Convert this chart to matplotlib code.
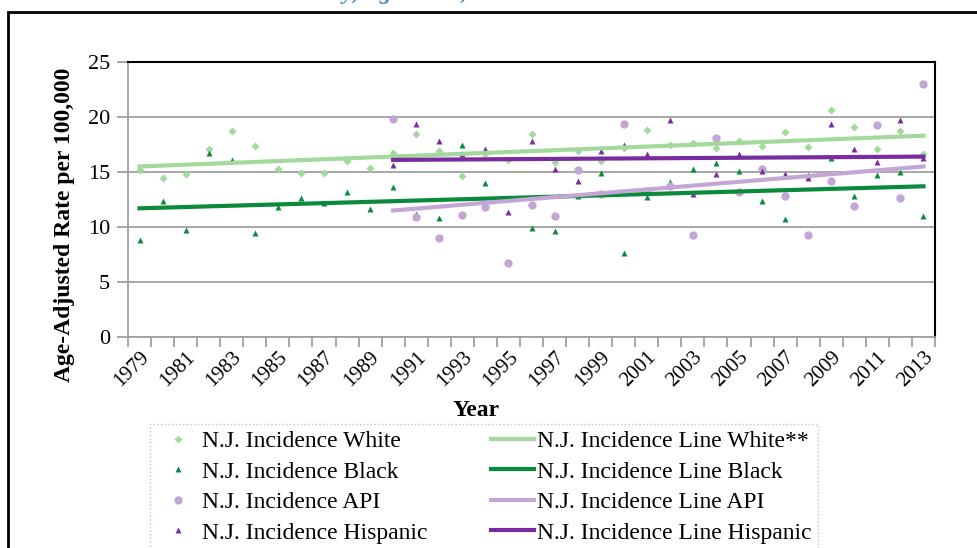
import matplotlib
matplotlib.use("Agg")
import matplotlib.pyplot as plt
from matplotlib.patches import Rectangle

plt.rcParams['font.family'] = ['Liberation Serif', 'DejaVu Serif']

years = list(range(1979, 2014))
white = [15.2, 14.5, 14.8, 17.1, 18.7, 17.4, 15.3, 14.9, 14.9, 16.0, 15.4, 16.7,
         18.5, 16.9, 14.6, 16.6, 16.1, 18.5, 15.9, 16.9, 16.0, 17.2, 18.8, 17.5,
         17.6, 17.2, 17.8, 17.4, 18.6, 17.3, 20.6, 19.1, 17.1, 18.7, 16.6]
black = [8.8, 12.4, 9.7, 16.7, 16.1, 9.5, 11.8, 12.6, 12.2, 13.2, 11.6, 13.6,
         11.2, 10.8, 17.5, 14.0, 12.6, 9.9, 9.6, 12.8, 14.9, 7.6, 12.7, 14.1,
         15.3, 15.8, 15.1, 12.4, 10.7, 14.7, 16.3, 12.8, 14.7, 15.0, 11.0]
# API and Hispanic series start in 1990
api_years = list(range(1990, 2014))
api = [19.8, 10.9, 9.0, 11.1, 11.8, 6.75, 12.0, 11.0, 15.2, 13.0, 19.4, 13.3,
       13.7, 9.3, 18.1, 13.2, 15.3, 12.8, 9.3, 14.2, 11.9, 19.3, 12.6, 23.0]
hisp = [15.6, 19.4, 17.8, 16.6, 17.1, 11.4, 17.8, 15.3, 14.2, 16.9, 17.5, 16.6,
        19.7, 13.0, 14.8, 16.6, 15.1, 14.8, 14.5, 19.4, 17.1, 15.9, 19.7, 16.3]

# trend lines: (start year, end year), (start value, end value)
white_line_years = [1979, 2013]
white_line = [15.5, 18.3]
black_line_years = [1979, 2013]
black_line = [11.7, 13.7]
api_line_years = [1990, 2013]
api_line = [11.5, 15.5]
hisp_line_years = [1990, 2013]
hisp_line = [16.1, 16.4]

c_white = '#A3D99C'
c_black = '#0B8A3C'
c_api = '#C4A6D6'
c_hisp = '#7A2C9E'

fig = plt.figure(figsize=(9.78, 5.48), dpi=100)
ax = fig.add_axes([128 / 978, 1 - 337 / 548, (935 - 128) / 978, (337 - 62) / 548])

def idx(ys):
    return [y - 1979 for y in ys]

h1, = ax.plot(idx(years), white, 'D', ms=3.8, color=c_white, mec='none', label='N.J. Incidence White')
h2, = ax.plot(idx(years), black, '^', ms=5, color=c_black, mec='none', label='N.J. Incidence Black')
h3, = ax.plot(idx(api_years), api, 'o', ms=6, color=c_api, mec='none', label='N.J. Incidence API')
h4, = ax.plot(idx(api_years), hisp, '^', ms=5, color=c_hisp, mec='none', label='N.J. Incidence Hispanic')
h5, = ax.plot(idx(white_line_years), white_line, '-', lw=3, color=c_white, label='N.J. Incidence Line White**')
h6, = ax.plot(idx(black_line_years), black_line, '-', lw=3, color=c_black, label='N.J. Incidence Line Black')
h7, = ax.plot(idx(api_line_years), api_line, '-', lw=3, color=c_api, label='N.J. Incidence Line API')
h8, = ax.plot(idx(hisp_line_years), hisp_line, '-', lw=3, color=c_hisp, label='N.J. Incidence Line Hispanic')

ax.set_xlim(-0.5, len(years) - 0.5)
ax.set_ylim(0, 25)
ax.set_yticks(range(0, 26, 5))
ax.yaxis.grid(True, color='#A0A0A0', lw=1.3)
ax.set_axisbelow(True)
ax.tick_params(axis='y', labelsize=16, length=8, color='#A0A0A0', width=1.3, pad=5)

ax.set_xticks([i - 0.5 for i in range(len(years) + 1)])
ax.set_xticklabels([])
ax.set_xticks(range(0, len(years), 2), minor=True)
ax.set_xticklabels([str(y) for y in years[::2]], minor=True, rotation=45,
                   ha='right', rotation_mode='anchor', fontsize=15)
ax.tick_params(axis='x', which='major', length=7, color='#A0A0A0', width=1.3)
ax.tick_params(axis='x', which='minor', length=0, pad=8)

for s in ['left', 'bottom']:
    ax.spines[s].set_color('#A0A0A0')
    ax.spines[s].set_linewidth(1.3)
for s in ['top', 'right']:
    ax.spines[s].set_color('black')
    ax.spines[s].set_linewidth(1.5)

fig.text(65 / 978, 1 - 225 / 548, 'Age-Adjusted Rate per 100,000', rotation=90,
         ha='center', va='center', fontsize=17, fontweight='bold')
fig.text(476 / 978, 1 - 410 / 548, 'Year', ha='center', va='center',
         fontsize=17, fontweight='bold')

# caption above the chart, mostly cut off by the top edge
fig.text(358 / 978, 1 + 1 / 548, 'Incidence Rate Trends in Race and Ethnicity,',
         ha='right', va='baseline', fontsize=17, fontweight='bold', style='italic',
         color='#4F81BD')
fig.text(368 / 978, 1 + 1 / 548, 'ages 0-19, 1979-2013',
         ha='left', va='baseline', fontsize=17, fontweight='bold', style='italic',
         color='#4F81BD')

# outer chart frame
fig.patches.append(Rectangle((8 / 978, -0.2), 1.2, 1.2 - 12 / 548,
                             transform=fig.transFigure, fill=False,
                             edgecolor='black', lw=2))

leg = fig.legend(handles=[h1, h2, h3, h4, h5, h6, h7, h8], ncol=2,
                 loc='upper left', bbox_to_anchor=(150 / 978, 1 - 424 / 548),
                 fontsize=17, handlelength=1.8, handletextpad=0.12,
                 columnspacing=2.7, labelspacing=0.38, borderpad=0.28,
                 borderaxespad=0, fancybox=False, markerscale=1.0)
leg.get_frame().set_edgecolor('#9DB9E0')
leg.get_frame().set_linestyle(':')
leg.get_frame().set_linewidth(1)

fig.savefig('out.png', dpi=100)
